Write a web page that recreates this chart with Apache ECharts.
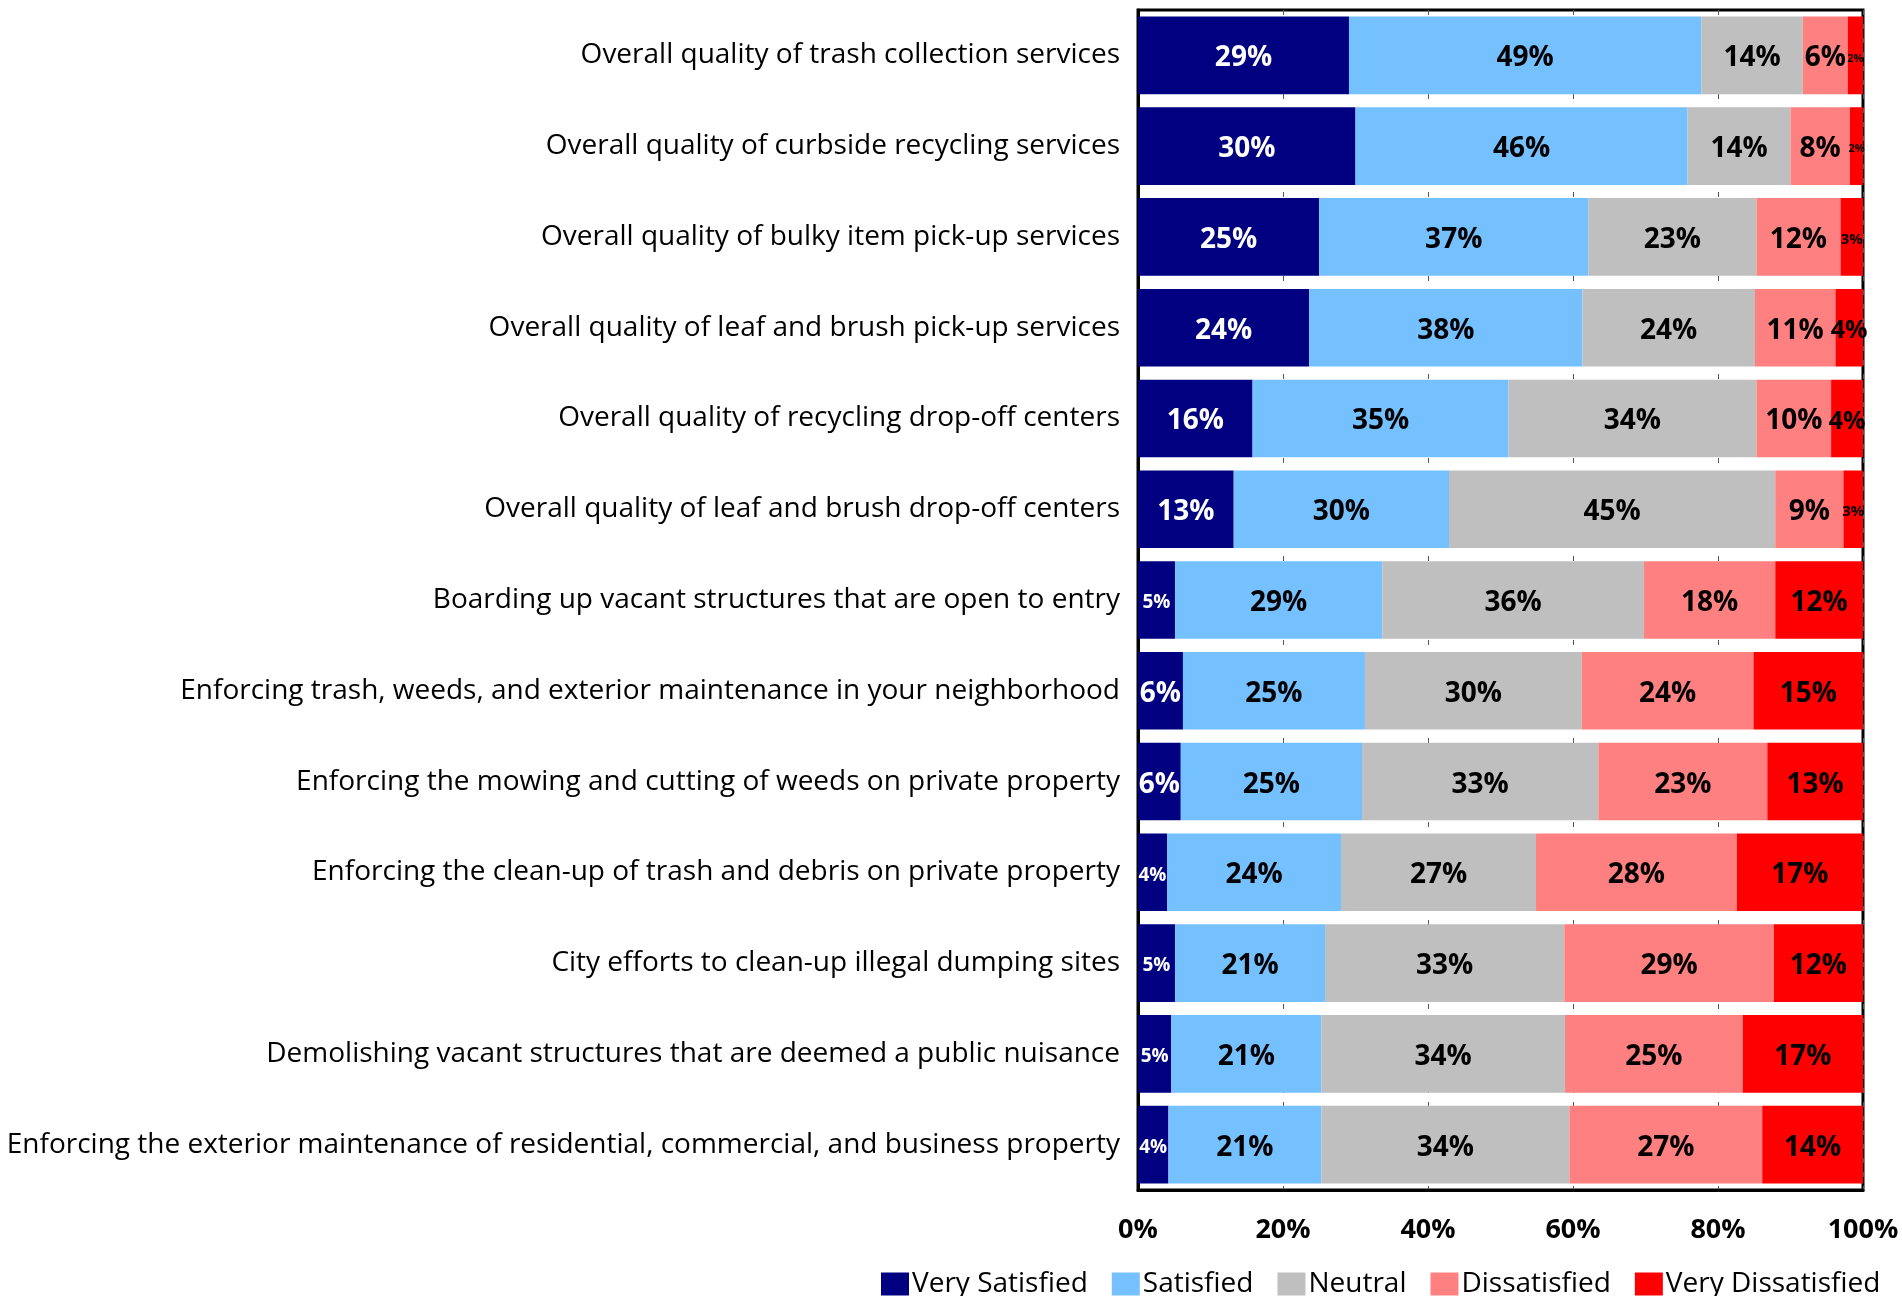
<!DOCTYPE html>
<html>
<head>
<meta charset="utf-8">
<script src="https://cdn.jsdelivr.net/npm/echarts@6/dist/echarts.min.js"></script>
<style>
  html, body { margin: 0; padding: 0; background: #ffffff; }
  #chart { width: 1902px; height: 1296px; }
</style>
</head>
<body>
<div id="chart"></div>
<script>
// Survey items, listed top to bottom
const categories = [
  'Overall quality of trash collection services',
  'Overall quality of curbside recycling services',
  'Overall quality of bulky item pick-up services',
  'Overall quality of leaf and brush pick-up services',
  'Overall quality of recycling drop-off centers',
  'Overall quality of leaf and brush drop-off centers',
  'Boarding up vacant structures that are open to entry',
  'Enforcing trash, weeds, and exterior maintenance in your neighborhood',
  'Enforcing the mowing and cutting of weeds on private property',
  'Enforcing the clean-up of trash and debris on private property',
  'City efforts to clean-up illegal dumping sites',
  'Demolishing vacant structures that are deemed a public nuisance',
  'Enforcing the exterior maintenance of residential, commercial, and business property'
];

// Share of respondents (percent) for each rating
const verySatisfied    = [29.1, 30.0, 25.0, 23.6, 15.8, 13.2, 5.1, 6.2, 5.9, 4.0, 5.1, 4.6, 4.2];
const satisfied        = [48.6, 45.8, 37.1, 37.7, 35.3, 29.7, 28.6, 25.1, 25.0, 24.0, 20.7, 20.7, 21.1];
const neutral          = [14.0, 14.2, 23.2, 23.8, 34.2, 45.0, 36.1, 29.9, 32.6, 26.9, 33.0, 33.6, 34.2];
const dissatisfied     = [6.2, 8.2, 11.6, 11.1, 10.3, 9.4, 18.1, 23.7, 23.3, 27.7, 28.9, 24.5, 26.6];
const veryDissatisfied = [2.1, 1.8, 3.1, 3.8, 4.4, 2.7, 12.1, 15.1, 13.2, 17.4, 12.3, 16.6, 13.9];

const axisTicks = [0, 20, 40, 60, 80, 100];
const seriesNames = ['Very Satisfied', 'Satisfied', 'Neutral', 'Dissatisfied', 'Very Dissatisfied'];

const FONT = '"Open Sans", "Noto Sans", sans-serif';
const colors = ['#000080', '#75C0FF', '#BFBFBF', '#FF8080', '#FF0000'];
const labelColors = ['#ffffff', '#000000', '#000000', '#000000', '#000000'];

// Narrow segments get a smaller label so the text stays inside them
function labelSize(seriesIdx, v) {
  if (seriesIdx === 0) return v < 5.5 ? 19 : 28;
  if (seriesIdx === 4) {
    if (v < 2.5) return 11;
    if (v < 3.5) return 15;
    if (v < 5) return 25;
  }
  return 28;
}

const valueSets = [verySatisfied, satisfied, neutral, dissatisfied, veryDissatisfied];

const series = valueSets.map((vals, si) => ({
  name: seriesNames[si],
  type: 'bar',
  stack: 'total',
  barCategoryGap: '14.5%',
  itemStyle: { color: colors[si] },
  label: {
    show: true,
    position: 'inside',
    offset: [0, 3],
    color: labelColors[si],
    fontFamily: FONT,
    fontWeight: 'bold',
    formatter: p => Math.round(p.value) + '%'
  },
  data: vals.map(v => ({ value: v, label: { fontSize: labelSize(si, v) } }))
}));

const chart = echarts.init(document.getElementById('chart'), null, { renderer: 'canvas' });
chart.setOption({
  animation: false,
  backgroundColor: '#ffffff',
  textStyle: { fontFamily: FONT },
  grid: {
    left: 1138, right: 39, top: 10, bottom: 106,
    show: true, borderColor: '#000000', borderWidth: 3, backgroundColor: 'transparent'
  },
  legend: {
    data: seriesNames,
    left: 876,
    top: 1265,
    itemWidth: 28,
    itemHeight: 23,
    itemGap: 24,
    icon: 'rect',
    textStyle: { fontFamily: FONT, fontSize: 28, color: '#000000', padding: [0, 0, 0, -2] }
  },
  xAxis: {
    type: 'value',
    min: axisTicks[0],
    max: axisTicks[axisTicks.length - 1],
    interval: axisTicks[1] - axisTicks[0],
    axisLine: { show: true, lineStyle: { color: '#000000', width: 3 } },
    axisTick: { show: false },
    axisLabel: {
      formatter: '{value}%',
      fontFamily: FONT,
      fontWeight: 'bold',
      fontSize: 27,
      color: '#000000',
      margin: 27
    },
    splitLine: { show: true, lineStyle: { color: '#555555', width: 1, type: [5, 9] } }
  },
  yAxis: {
    type: 'category',
    data: categories,
    inverse: true,
    axisLine: { show: true, lineStyle: { color: '#000000', width: 3 } },
    axisTick: { show: false },
    axisLabel: {
      fontFamily: FONT,
      fontSize: 28,
      color: '#000000',
      margin: 18,
      padding: [10, 0, 0, 0]
    }
  },
  series: series
});
</script>
</body>
</html>
